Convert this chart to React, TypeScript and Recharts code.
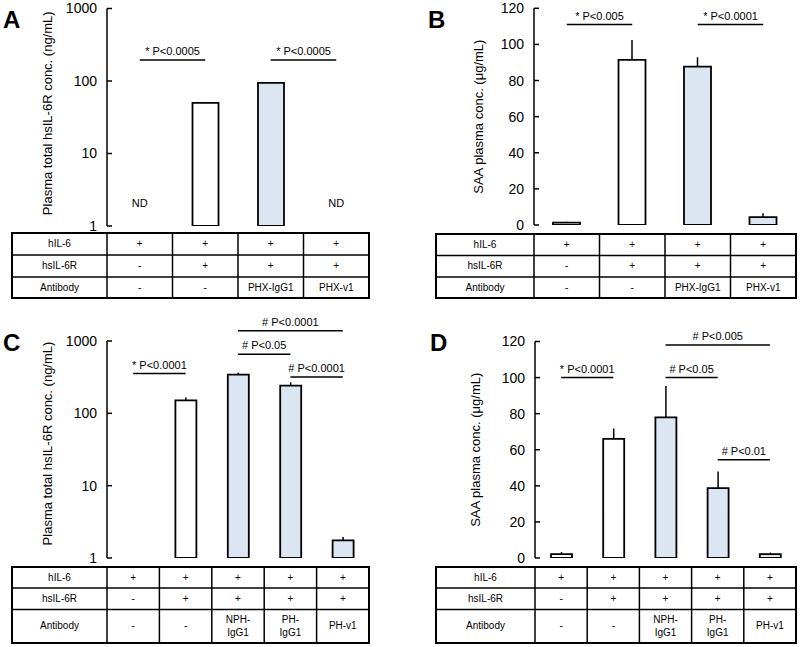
import {
  Bar,
  BarChart,
  Cell,
  ErrorBar,
  Label,
  ReferenceDot,
  ReferenceLine,
  XAxis,
  YAxis,
} from "recharts";

const FONT = "'Liberation Sans', Arial, sans-serif";
const BLUE = "#dce6f2";

const groups4 = ["c1", "c2", "c3", "c4"];
const groups5 = ["c1", "c2", "c3", "c4", "c5"];

// A: plasma total hsIL-6R (ng/mL), ND = not detected
const hsIL6RValuesA = [null, 50, 94, null];
const hsIL6RErrorsA = [null, 1.5, 3, null];
// B: SAA plasma conc. (μg/mL)
const saaValuesB = [1.3, 91.4, 87.7, 4.4];
const saaErrorsB = [0.5, 11, 5.2, 2.1];
// C: plasma total hsIL-6R (ng/mL)
const hsIL6RValuesC = [null, 151, 342, 241, 1.75];
const hsIL6RErrorsC = [null, 14, 23, 27, 0.2];
// D: SAA plasma conc. (μg/mL)
const saaValuesD = [2.2, 66, 78, 38.7, 2.2];
const saaErrorsD = [1.1, 5.8, 17.4, 9.2, 0.8];

const hIL6Row4 = ["+", "+", "+", "+"];
const hsIL6RRow4 = ["-", "+", "+", "+"];
const antibodyRow4 = ["-", "-", "PHX-IgG1", "PHX-v1"];
const hIL6Row5 = ["+", "+", "+", "+", "+"];
const hsIL6RRow5 = ["-", "+", "+", "+", "+"];
const antibodyRow5 = ["-", "-", "NPH-\nIgG1", "PH-\nIgG1", "PH-v1"];

const logTicks = [1, 10, 100, 1000];
const saaTicks = [0, 20, 40, 60, 80, 100, 120];

const ndGroupsA = [0, 3];
const ndLevelA = 2.1;

type Bracket = { from: number; to: number; y: number; text: string };

const bracketsA: Bracket[] = [
  { from: 0, to: 1, y: 195, text: "* P<0.0005" },
  { from: 2, to: 3, y: 195, text: "* P<0.0005" },
];
const bracketsB: Bracket[] = [
  { from: 0, to: 1, y: 111, text: "* P<0.005" },
  { from: 2, to: 3, y: 111, text: "* P<0.0001" },
];
const bracketsC: Bracket[] = [
  { from: 0, to: 1, y: 354, text: "* P<0.0001" },
  { from: 2, to: 3, y: 655, text: "# P<0.05" },
  { from: 3, to: 4, y: 318, text: "# P<0.0001" },
  { from: 2, to: 4, y: 1390, text: "# P<0.0001" },
];
const bracketsD: Bracket[] = [
  { from: 0, to: 1, y: 100, text: "* P<0.0001" },
  { from: 2, to: 3, y: 100, text: "# P<0.05" },
  { from: 2, to: 4, y: 118, text: "# P<0.005" },
  { from: 3, to: 4, y: 54.5, text: "# P<0.01" },
];

type PanelProps = {
  left: number;
  top: number;
  width: number;
  height: number;
  marginTop: number;
  marginRight: number;
  yAxisWidth: number;
  edgeHeight: number;
  groups: string[];
  values: (number | null)[];
  errors: (number | null)[];
  antibody: string[];
  log: boolean;
  ticks: number[];
  yTitle: string;
  titleGap: number;
  titleShift: number;
  brackets: Bracket[];
  barSize: number;
  nd?: number[];
  ndLevel?: number;
};

function Panel(p: PanelProps) {
  const data = p.groups.map((g, i) => ({
    group: g,
    value: p.values[i],
    err: p.errors[i] == null ? null : [0, p.errors[i]],
    fill: p.antibody[i] === "-" ? "#ffffff" : BLUE,
  }));
  const n = p.groups.length;
  const domain = [p.ticks[0], p.ticks[p.ticks.length - 1]];

  return (
    <div style={{ position: "absolute", left: p.left, top: p.top }}>
      <BarChart
        width={p.width}
        height={p.height}
        data={data}
        margin={{ top: p.marginTop, right: p.marginRight, bottom: 0, left: 0 }}
        style={{ fontFamily: FONT }}
      >
        <XAxis dataKey="group" hide />
        <XAxis
          xAxisId="edge"
          type="number"
          domain={[0, n]}
          allowDataOverflow
          ticks={Array.from({ length: n }, (_, i) => i + 1)}
          interval={0}
          height={p.edgeHeight}
          tick={false}
          tickSize={-5}
          axisLine={{ stroke: "#000", strokeWidth: 1.5 }}
          tickLine={{ stroke: "#000", strokeWidth: 1.5 }}
        />
        <YAxis
          type="number"
          scale={p.log ? "log" : "linear"}
          domain={domain}
          allowDataOverflow
          ticks={p.ticks}
          interval={0}
          width={p.yAxisWidth}
          tickSize={-5}
          tickMargin={15}
          tick={{ fill: "#000", fontSize: 14, fontFamily: FONT }}
          axisLine={{ stroke: "#000", strokeWidth: 1.5 }}
          tickLine={{ stroke: "#000", strokeWidth: 1.5 }}
        >
          <Label
            content={(lp: any) => {
              const vb = lp.viewBox;
              const cx = vb.x + vb.width - p.titleGap;
              const cy = vb.y + vb.height / 2 + p.titleShift;
              return (
                <text
                  x={cx}
                  y={cy}
                  transform={`rotate(-90 ${cx} ${cy})`}
                  textAnchor="middle"
                  dominantBaseline="middle"
                  fontSize={13}
                  fill="#000"
                  fontFamily={FONT}
                >
                  {p.yTitle}
                </text>
              );
            }}
          />
        </YAxis>
        <Bar
          dataKey="value"
          barSize={p.barSize}
          stroke="#000"
          strokeWidth={1.8}
          isAnimationActive={false}
        >
          {data.map((d) => (
            <Cell key={d.group} fill={d.fill} />
          ))}
          <ErrorBar
            dataKey="err"
            direction="y"
            width={0}
            stroke="#000"
            strokeWidth={1.5}
            isAnimationActive={false}
          />
        </Bar>
        {p.brackets.map((b, i) => (
          <ReferenceLine
            key={i}
            segment={[
              { x: p.groups[b.from], y: b.y },
              { x: p.groups[b.to], y: b.y },
            ]}
            stroke="#000"
            strokeWidth={1.5}
            ifOverflow="visible"
            label={{
              value: b.text,
              position: "top",
              offset: 5,
              fill: "#000",
              fontSize: 11,
              fontFamily: FONT,
            }}
          />
        ))}
        {(p.nd ?? []).map((i) => (
          <ReferenceDot
            key={`nd${i}`}
            x={p.groups[i]}
            y={p.ndLevel}
            r={0}
            fill="none"
            stroke="none"
            ifOverflow="visible"
            label={{
              value: "ND",
              position: "center",
              fill: "#000",
              fontSize: 11,
              fontFamily: FONT,
            }}
          />
        ))}
      </BarChart>
    </div>
  );
}

type TableProps = {
  left: number;
  top: number;
  firstCol: number;
  colWidth: number;
  rowHeights: number[];
  rows: { label: string; cells: string[] }[];
};

function ConditionTable({ left, top, firstCol, colWidth, rowHeights, rows }: TableProps) {
  const n = rows[0].cells.length;
  const width = firstCol + colWidth * n;
  const height = rowHeights.reduce((s, h) => s + h, 0);
  const rowTops = rowHeights.map((_, i) =>
    rowHeights.slice(0, i).reduce((s, h) => s + h, 0),
  );
  const cellText = (text: string, cx: number, cy: number, key: string) => {
    const lines = text.split("\n");
    const lh = 13;
    return (
      <text
        key={key}
        x={cx}
        y={cy - ((lines.length - 1) * lh) / 2}
        textAnchor="middle"
        dominantBaseline="middle"
        fontSize={10}
        fill="#000"
        fontFamily={FONT}
      >
        {lines.map((l, j) => (
          <tspan key={j} x={cx} dy={j === 0 ? 0 : lh}>
            {l}
          </tspan>
        ))}
      </text>
    );
  };
  return (
    <svg
      width={width + 2}
      height={height + 2}
      style={{ position: "absolute", left: left - 1, top: top - 1 }}
    >
      <g transform="translate(1,1)">
        {rowTops.slice(1).map((y, i) => (
          <line key={`h${i}`} x1={0} x2={width} y1={y} y2={y} stroke="#000" strokeWidth={1.5} />
        ))}
        {Array.from({ length: n }, (_, k) => firstCol + k * colWidth).map((x, i) => (
          <line key={`v${i}`} x1={x} x2={x} y1={0} y2={height} stroke="#000" strokeWidth={1.5} />
        ))}
        <rect x={0} y={0} width={width} height={height} fill="none" stroke="#000" strokeWidth={2} />
        {rows.map((r, ri) => {
          const cy = rowTops[ri] + rowHeights[ri] / 2;
          return (
            <g key={r.label}>
              {cellText(r.label, firstCol / 2, cy, "l")}
              {r.cells.map((c, ci) =>
                cellText(c, firstCol + colWidth * (ci + 0.5), cy, `c${ci}`),
              )}
            </g>
          );
        })}
      </g>
    </svg>
  );
}

const letterStyle = (left: number, top: number): React.CSSProperties => ({
  position: "absolute",
  left,
  top,
  fontFamily: FONT,
  fontWeight: "bold",
  fontSize: 24,
  lineHeight: 1,
});

export default function App() {
  const rows4 = [
    { label: "hIL-6", cells: hIL6Row4 },
    { label: "hsIL-6R", cells: hsIL6RRow4 },
    { label: "Antibody", cells: antibodyRow4 },
  ];
  const rows5 = [
    { label: "hIL-6", cells: hIL6Row5 },
    { label: "hsIL-6R", cells: hsIL6RRow5 },
    { label: "Antibody", cells: antibodyRow5 },
  ];
  return (
    <div
      style={{
        position: "absolute",
        left: 0,
        top: 0,
        width: 800,
        height: 647,
        background: "#fff",
        overflow: "hidden",
      }}
    >
      <Panel
        left={0}
        top={0}
        width={400}
        height={240}
        marginTop={8.5}
        marginRight={31}
        yAxisWidth={107}
        edgeHeight={14}
        groups={groups4}
        values={hsIL6RValuesA}
        errors={hsIL6RErrorsA}
        antibody={antibodyRow4}
        log
        ticks={logTicks}
        yTitle="Plasma total hsIL-6R conc. (ng/mL)"
        titleGap={58}
        titleShift={-4}
        brackets={bracketsA}
        barSize={26}
        nd={ndGroupsA}
        ndLevel={ndLevelA}
      />
      <Panel
        left={400}
        top={0}
        width={400}
        height={240}
        marginTop={8.3}
        marginRight={4}
        yAxisWidth={134}
        edgeHeight={15}
        groups={groups4}
        values={saaValuesB}
        errors={saaErrorsB}
        antibody={antibodyRow4}
        log={false}
        ticks={saaTicks}
        yTitle="SAA plasma conc. (μg/mL)"
        titleGap={54}
        titleShift={0}
        brackets={bracketsB}
        barSize={27}
      />
      <Panel
        left={0}
        top={310}
        width={400}
        height={262}
        marginTop={31}
        marginRight={31}
        yAxisWidth={107}
        edgeHeight={14}
        groups={groups5}
        values={hsIL6RValuesC}
        errors={hsIL6RErrorsC}
        antibody={antibodyRow5}
        log
        ticks={logTicks}
        yTitle="Plasma total hsIL-6R conc. (ng/mL)"
        titleGap={58}
        titleShift={-6}
        brackets={bracketsC}
        barSize={21}
      />
      <Panel
        left={400}
        top={310}
        width={400}
        height={262}
        marginTop={31.5}
        marginRight={4}
        yAxisWidth={135}
        edgeHeight={14}
        groups={groups5}
        values={saaValuesD}
        errors={saaErrorsD}
        antibody={antibodyRow5}
        log={false}
        ticks={saaTicks}
        yTitle="SAA plasma conc. (μg/mL)"
        titleGap={58}
        titleShift={0}
        brackets={bracketsD}
        barSize={21}
      />
      <ConditionTable left={12} top={233} firstCol={95} colWidth={65.5} rowHeights={[22, 22, 21]} rows={rows4} />
      <ConditionTable left={436} top={234} firstCol={98} colWidth={65.5} rowHeights={[21.5, 21.5, 21]} rows={rows4} />
      <ConditionTable left={12} top={567} firstCol={95} colWidth={52.4} rowHeights={[21, 21.5, 33.5]} rows={rows5} />
      <ConditionTable left={436} top={567} firstCol={99} colWidth={52.2} rowHeights={[21, 21.5, 33.5]} rows={rows5} />
      <div style={letterStyle(3, 8)}>A</div>
      <div style={letterStyle(428, 8)}>B</div>
      <div style={letterStyle(3, 331)}>C</div>
      <div style={letterStyle(430, 331)}>D</div>
    </div>
  );
}
